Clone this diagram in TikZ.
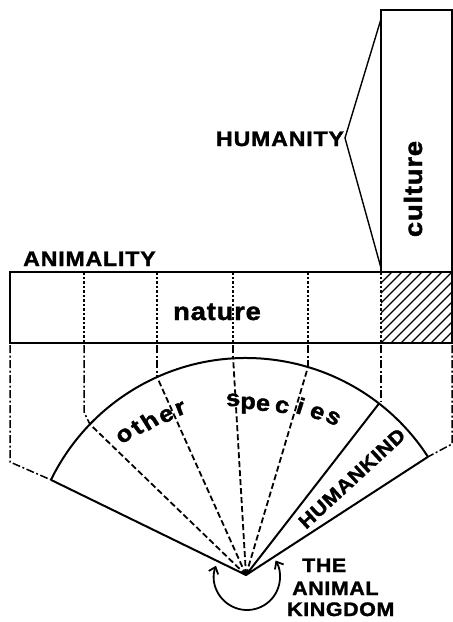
\documentclass[tikz,border=0pt]{standalone}
\usepackage{fontspec}
\newfontfamily\lab[FakeStretch=1.1,FakeBold=1.6]{Liberation Sans}
\usetikzlibrary{arrows.meta}
\begin{document}
\begin{tikzpicture}[x=1pt,y=1pt,
  barline/.style={line width=2.8pt},
  boxline/.style={line width=2.4pt},
  fanline/.style={line width=2pt},
  dotline/.style={line width=1.7pt, dash pattern=on 2.5pt off 2pt},
  dashdot/.style={line width=1.5pt, dash pattern=on 8pt off 2.5pt on 2pt off 2.5pt},
  raddash/.style={line width=1.8pt, dash pattern=on 6pt off 3pt},
  hatch/.style={line width=1.2pt},
  caps/.style={font=\lab\bfseries\fontsize{21}{23}\selectfont\addfontfeature{LetterSpace=4}, inner sep=0pt},
  caps2/.style={font=\lab\bfseries\fontsize{19.5}{21}\selectfont\addfontfeature{LetterSpace=3}, inner sep=0pt},
  lower/.style={font=\lab\bfseries\fontsize{25}{27}\selectfont\addfontfeature{LetterSpace=3}, inner sep=0pt},
  arcletter/.style={font=\lab\bfseries\fontsize{23}{25}\selectfont, inner sep=0pt, anchor=base},
]
\useasboundingbox (0,0) rectangle (453,-622);

% ---- culture box and hatched part of the bar
\draw[boxline] (381,-272) -- (381,-10) -- (452,-10) -- (452,-272);
\begin{scope}
  \clip (381,-272) rectangle (452,-343);
  \foreach \k in {-8,...,8} \draw[hatch] (381+\k*10,-343) -- ++(75,75);
\end{scope}

% ---- nature bar
\draw[barline] (10,-272) rectangle (452,-343);
\foreach \x in {84,157,233,308,381} \draw[dotline] (\x,-272) -- (\x,-343);

% ---- HUMANITY bracket
\coordinate (hv) at (345,-138);
\coordinate (ht) at (381,-19);
\coordinate (hb) at (381,-268);
\draw[line width=1.4pt] (ht) -- (hv) -- (hb);
\node[caps, anchor=base] (humanity) at (280,-146) {HUMANITY};
\node[caps, anchor=base west] (animality) at (23,-266) {ANIMALITY};
\node[lower, anchor=base] (nature) at (217,-320) {nature};
\node[lower, anchor=base, rotate=90] (culture) at (422,-189) {culture};

% ---- fan
\coordinate (apex) at (246,-575);
\coordinate (eL) at ([shift={(154:217)}]apex);
\coordinate (eR) at ([shift={(33:217)}]apex);
\coordinate (eH) at ([shift={(52.2:217)}]apex);
\draw[fanline] (eR) arc[start angle=33, end angle=154, radius=217];
\draw[fanline] (eL) -- (apex) -- (eR);
\draw[fanline] (apex) -- (eH);
\foreach \a in {136,114.2,93.4,73.4} \draw[raddash] (apex) -- ([shift={(\a:217)}]apex);

% ---- projection lines (dash-dot)
\draw[dashdot] (10,-345) -- (10,-462) -- (eL);
\draw[dashdot] (84,-345) -- (84,-412) -- ([shift={(136:217)}]apex);
\draw[dashdot] (157,-345) -- (157,-377.1);
\draw[dashdot] (233,-345) -- (233,-358.4);
\draw[dashdot] (308,-345) -- (308,-367);
\draw[dashdot] (381,-345) -- (381,-401);
\draw[dashdot] (452,-345) -- (452,-444) -- (eR);

% ---- letters along the arc
\foreach \ch/\ang/\r [count=\i] in {o/131/185, t/126.5/182, h/122/180, e/116.5/178, r/111.5/178.5}
  \node[arcletter, rotate=\ang-90] (ot\i) at ([shift={(\ang:{\r-6})}]apex) {\ch};
\foreach \ch/\ang/\r [count=\i] in {s/94.2/175.5, p/89.3/172, e/84.3/171, c/77.9/172, i/72.1/175.5, e/66.3/177, s/61/179.5}
  \node[arcletter, rotate=\ang-90] (sp\i) at ([shift={(\ang:{\r-6})}]apex) {\ch};

\node[caps2, rotate=42.7] (humankind) at (352,-478.5) {HUMANKIND};

% ---- the animal kingdom
\coordinate (ac) at (247,-577);
\draw[line width=1.8pt, {Straight Barb[length=6pt,width=10pt]}-{Straight Barb[length=6pt,width=10pt]}]
  ([shift={(160:33)}]ac) arc[start angle=160, end angle=390, radius=33];
\node[caps2, anchor=base west] (the) at (302,-572) {THE};
\node[caps2, anchor=base west] (animal) at (292,-595) {ANIMAL};
\node[caps2, anchor=base west] (kingdom) at (287,-616) {KINGDOM};
\end{tikzpicture}
\end{document}
